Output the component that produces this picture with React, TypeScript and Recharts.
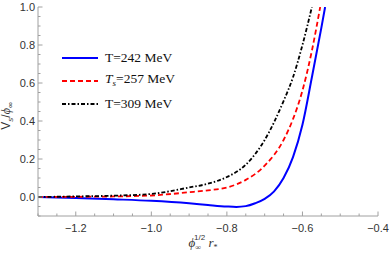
import { LineChart, Line, XAxis, YAxis, Label } from "recharts"

// T = 242 MeV
const blueX = [-1.3, -1.2, -1.1, -1.0, -0.9, -0.85, -0.8, -0.775, -0.75, -0.725, -0.7, -0.675, -0.65, -0.625, -0.6, -0.575, -0.55, -0.54]
const blueY = [0.0, -0.005, -0.012, -0.02, -0.033, -0.042, -0.05, -0.052, -0.048, -0.033, -0.01, 0.03, 0.1, 0.21, 0.38, 0.63, 0.89, 1.0]

// T_s = 257 MeV
const redX = [-1.3, -1.2, -1.1, -1.0, -0.9, -0.85, -0.8, -0.75, -0.7, -0.65, -0.625, -0.6, -0.575, -0.553]
const redY = [0.0, 0.001, 0.003, 0.008, 0.025, 0.035, 0.05, 0.09, 0.165, 0.3, 0.41, 0.56, 0.77, 1.0]

// T = 309 MeV
const blackX = [-1.3, -1.2, -1.1, -1.0, -0.9, -0.85, -0.8, -0.75, -0.7, -0.65, -0.625, -0.6, -0.575]
const blackY = [0.0, 0.003, 0.007, 0.016, 0.05, 0.07, 0.105, 0.17, 0.3, 0.505, 0.63, 0.8, 1.0]

const xTicks = [-1.3, -1.25, -1.2, -1.15, -1.1, -1.05, -1.0, -0.95, -0.9, -0.85, -0.8, -0.75, -0.7, -0.65, -0.6, -0.55, -0.5, -0.45, -0.4]
const yTicks = [-0.1, -0.05, 0.0, 0.05, 0.1, 0.15, 0.2, 0.25, 0.3, 0.35, 0.4, 0.45, 0.5, 0.55, 0.6, 0.65, 0.7, 0.75, 0.8, 0.85, 0.9, 0.95, 1.0]

const toPoints = (xs: number[], ys: number[]) => xs.map((x, i) => ({ x, y: ys[i] }))

const series = [
  { key: "blue", data: toPoints(blueX, blueY), color: "#0000ff", dash: undefined, width: 2 },
  { key: "red", data: toPoints(redX, redY), color: "#ff0000", dash: "5 3", width: 1.8 },
  { key: "black", data: toPoints(blackX, blackY), color: "#000000", dash: "4 2 1.5 2", width: 1.8 },
]

const frameColor = "#a0a0a0"
const labelColor = "#333"
const sansFont = "'Liberation Sans', Arial, sans-serif"
const serifFont = "'Liberation Serif', 'Times New Roman', serif"

const isMajor = (v: number) => Math.abs(v * 5 - Math.round(v * 5)) < 1e-6
const fmt = (v: number) => (v < 0 ? "\u2212" + Math.abs(v).toFixed(1) : v.toFixed(1))

const BottomTick = (props: any) => {
  const { x, y, payload } = props
  const major = isMajor(payload.value)
  const len = major ? 4.5 : 2.5
  return (
    <g>
      <line x1={x} x2={x} y1={y} y2={y - len} stroke={frameColor} strokeWidth={1} />
      {major && payload.value > -1.3 && (
        <text x={x} y={y + 16} textAnchor="middle" fontSize={11} fontFamily={sansFont} fill={labelColor}>
          {fmt(payload.value)}
        </text>
      )}
    </g>
  )
}

const TopTick = (props: any) => {
  const { x, y, payload } = props
  const len = isMajor(payload.value) ? 4.5 : 2.5
  return <line x1={x} x2={x} y1={y} y2={y + len} stroke={frameColor} strokeWidth={1} />
}

const LeftTick = (props: any) => {
  const { x, y, payload } = props
  const major = isMajor(payload.value)
  const len = major ? 4.5 : 2.5
  return (
    <g>
      <line x1={x} x2={x + len} y1={y} y2={y} stroke={frameColor} strokeWidth={1} />
      {major && payload.value > -0.05 && (
        <text x={x - 3} y={y + 4} textAnchor="end" fontSize={11} fontFamily={sansFont} fill={labelColor}>
          {fmt(payload.value)}
        </text>
      )}
    </g>
  )
}

const RightTick = (props: any) => {
  const { x, y, payload } = props
  const len = isMajor(payload.value) ? 4.5 : 2.5
  return <line x1={x} x2={x - len} y1={y} y2={y} stroke={frameColor} strokeWidth={1} />
}

const legendRows = [
  { key: "blue", color: "#0000ff", dash: undefined, label: <span>T=242 MeV</span> },
  {
    key: "red",
    color: "#ff0000",
    dash: "5 3",
    label: (
      <span>
        <i>T</i>
        <sub style={{ fontSize: 9, fontStyle: "italic", verticalAlign: "-3px" }}>s</sub>=257 MeV
      </span>
    ),
  },
  { key: "black", color: "#000000", dash: "4 2 1.5 2", label: <span>T=309 MeV</span> },
]

const LegendBox = () => (
  <div style={{ position: "absolute", left: 62, top: 46, fontFamily: serifFont, fontSize: 13.5, color: "#111", lineHeight: "23px" }}>
    {legendRows.map((r) => (
      <div key={r.key} style={{ display: "flex", alignItems: "center", height: 23 }}>
        <svg width={36} height={6} style={{ marginRight: 7 }}>
          <line x1={0} x2={36} y1={3} y2={3} stroke={r.color} strokeWidth={2} strokeDasharray={r.dash} />
        </svg>
        {r.label}
      </div>
    ))}
  </div>
)

const YLabel = () => {
  const cx = 10
  const cy = 116
  return (
    <text x={cx} y={cy} transform={`rotate(-90 ${cx} ${cy})`} textAnchor="middle" fontSize={12} fontFamily={sansFont} fill={labelColor}>
      <tspan>V</tspan>
      <tspan fontSize={8} fontStyle="italic" dy={3}>s</tspan>
      <tspan dy={-3}>/</tspan>
      <tspan fontStyle="italic" fontFamily={serifFont}>ϕ</tspan>
      <tspan fontSize={8} dy={3}>∞</tspan>
    </text>
  )
}

const XLabel = () => {
  const cx = 203
  const cy = 247
  return (
    <text x={cx} y={cy} textAnchor="middle" fontSize={13} fontFamily={serifFont} fill={labelColor}>
      <tspan fontStyle="italic">ϕ</tspan>
      <tspan fontSize={8} dy={3}>∞</tspan>
      <tspan fontSize={8} fontFamily={sansFont} dx={-7} dy={-10}>1/2</tspan>
      <tspan dy={7}> </tspan>
      <tspan fontStyle="italic">r</tspan>
      <tspan fontSize={8} dy={3}>*</tspan>
    </text>
  )
}

export default function App() {
  return (
    <div style={{ position: "absolute", left: 0, top: 0, width: 390, height: 256, background: "#fff" }}>
      <LineChart width={390} height={256} margin={{ top: 7, right: 12, left: 0, bottom: 0 }}>
        <XAxis
          xAxisId="bottom"
          type="number"
          dataKey="x"
          domain={[-1.3, -0.4]}
          ticks={xTicks}
          interval={0}
          tickSize={0}
          tickMargin={0}
          tickLine={false}
          tick={<BottomTick />}
          axisLine={{ stroke: frameColor }}
          height={40}
          allowDataOverflow
        >
          <Label content={<XLabel />} />
        </XAxis>
        <XAxis
          xAxisId="top"
          orientation="top"
          type="number"
          dataKey="x"
          domain={[-1.3, -0.4]}
          ticks={xTicks}
          interval={0}
          tickSize={0}
          tickMargin={0}
          tickLine={false}
          tick={<TopTick />}
          axisLine={{ stroke: frameColor }}
          height={0}
          allowDataOverflow
        />
        <YAxis
          yAxisId="left"
          type="number"
          domain={[-0.1, 1.0]}
          ticks={yTicks}
          interval={0}
          tickSize={0}
          tickMargin={0}
          tickLine={false}
          tick={<LeftTick />}
          axisLine={{ stroke: frameColor }}
          width={38}
          allowDataOverflow
        >
          <Label content={<YLabel />} />
        </YAxis>
        <YAxis
          yAxisId="right"
          orientation="right"
          type="number"
          domain={[-0.1, 1.0]}
          ticks={yTicks}
          interval={0}
          tickSize={0}
          tickMargin={0}
          tickLine={false}
          tick={<RightTick />}
          axisLine={{ stroke: frameColor }}
          width={0}
          allowDataOverflow
        />
        {series.map((s) => (
          <Line
            key={s.key}
            xAxisId="bottom"
            yAxisId="left"
            data={s.data}
            dataKey="y"
            type="monotone"
            stroke={s.color}
            strokeWidth={s.width}
            strokeDasharray={s.dash}
            dot={false}
            isAnimationActive={false}
          />
        ))}
      </LineChart>
      <LegendBox />
    </div>
  )
}
